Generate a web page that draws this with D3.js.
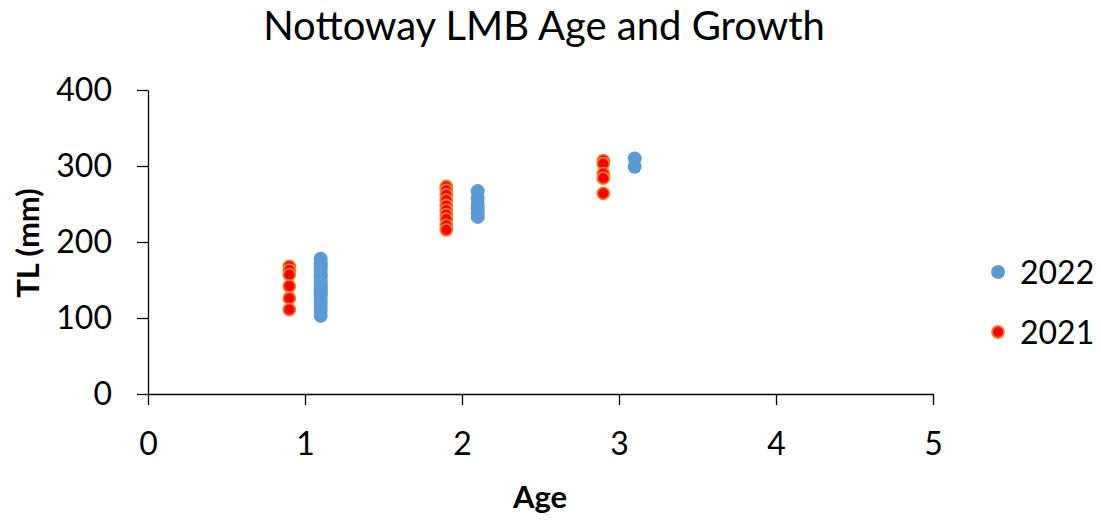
<!DOCTYPE html>
<html>
<meta charset="utf-8">
<script src="https://cdn.jsdelivr.net/npm/d3@7"></script>
<style>
  body { margin: 0; background: #fff; }
  text { font-family: Lato, "Open Sans", sans-serif; fill: #000; }
  .axis path, .axis line { stroke: #000; stroke-width: 1.3px; }
  .axis text { font-size: 32px; }
</style>
<body>
<div id="chart"></div>
<script>
// data (age, total length in mm)
var ages2022 = [1, 2, 3];
var tl2022 = [
  [178, 172, 168, 163, 158, 155, 150, 146, 142, 138, 134, 130, 125, 120, 115, 110, 103],
  [267, 258, 250, 244, 238, 233],
  [310, 299]
];
var ages2021 = [1, 2, 3];
var tl2021 = [
  [168, 163, 157, 142, 126, 111],
  [273, 268, 262, 255, 248, 242, 236, 230, 222, 216],
  [307, 303, 290, 284, 264]
];
var xTicks = [0, 1, 2, 3, 4, 5];
var yTicks = [0, 100, 200, 300, 400];
var seriesNames = ["2022", "2021"];

// chart size
var W = 1101, H = 523;
var margin = {top: 90, right: 168, bottom: 129, left: 148};

var svg = d3.select("#chart")
  .append("svg")
    .attr("width", W)
    .attr("height", H);

var x = d3.scaleLinear().domain([0, 5]).range([margin.left, W - margin.right]);
var y = d3.scaleLinear().domain([0, 400]).range([H - margin.bottom, margin.top]);

// axes
svg.append("g")
  .attr("class", "axis")
  .attr("transform", "translate(0," + y(0) + ")")
  .call(d3.axisBottom(x).tickValues(xTicks).tickSize(11).tickSizeOuter(0).tickPadding(27).tickFormat(d3.format("d")));

svg.append("g")
  .attr("class", "axis")
  .attr("transform", "translate(" + x(0) + ",0)")
  .call(d3.axisLeft(y).tickValues(yTicks).tickSize(11).tickSizeOuter(0).tickPadding(25).tickFormat(d3.format("d")));

// flatten the series into points, 2021 sits left of the age, 2022 right
var pts2022 = [];
ages2022.forEach(function(a, i) {
  tl2022[i].forEach(function(v) { pts2022.push({age: a + 0.1, tl: v}); });
});
var pts2021 = [];
ages2021.forEach(function(a, i) {
  tl2021[i].forEach(function(v) { pts2021.push({age: a - 0.1, tl: v}); });
});

svg.append("g")
  .selectAll("circle")
  .data(pts2022)
  .enter()
  .append("circle")
    .attr("cx", function(d) { return x(d.age); })
    .attr("cy", function(d) { return y(d.tl); })
    .attr("r", 7)
    .style("fill", "#5B9BD5");

svg.append("g")
  .selectAll("circle")
  .data(pts2021)
  .enter()
  .append("circle")
    .attr("cx", function(d) { return x(d.age); })
    .attr("cy", function(d) { return y(d.tl); })
    .attr("r", 6)
    .style("fill", "#FF0000")
    .style("stroke", "#ED7D31")
    .style("stroke-width", 1.8);

// title
svg.append("text")
  .attr("x", 544)
  .attr("y", 40)
  .attr("text-anchor", "middle")
  .style("font-size", "40px")
  .text("Nottoway LMB Age and Growth");

// axis titles
svg.append("text")
  .attr("x", 540)
  .attr("y", 508)
  .attr("text-anchor", "middle")
  .style("font-size", "31px")
  .style("font-weight", "bold")
  .text("Age");

svg.append("text")
  .attr("transform", "rotate(-90)")
  .attr("x", -243)
  .attr("y", 39)
  .attr("text-anchor", "middle")
  .style("font-size", "31px")
  .style("font-weight", "bold")
  .text("TL (mm)");

// legend
var legend = svg.selectAll(".legend")
  .data(seriesNames)
  .enter()
  .append("g")
    .attr("class", "legend")
    .attr("transform", function(d, i) { return "translate(998," + (272 + i * 60) + ")"; });

legend.append("circle")
  .attr("r", function(d) { return d === "2022" ? 7 : 6; })
  .style("fill", function(d) { return d === "2022" ? "#5B9BD5" : "#FF0000"; })
  .style("stroke", function(d) { return d === "2022" ? "none" : "#ED7D31"; })
  .style("stroke-width", 1.8);

legend.append("text")
  .attr("x", 22)
  .attr("dy", "0.36em")
  .style("font-size", "32px")
  .text(function(d) { return d; });
</script>
</body>
</html>
